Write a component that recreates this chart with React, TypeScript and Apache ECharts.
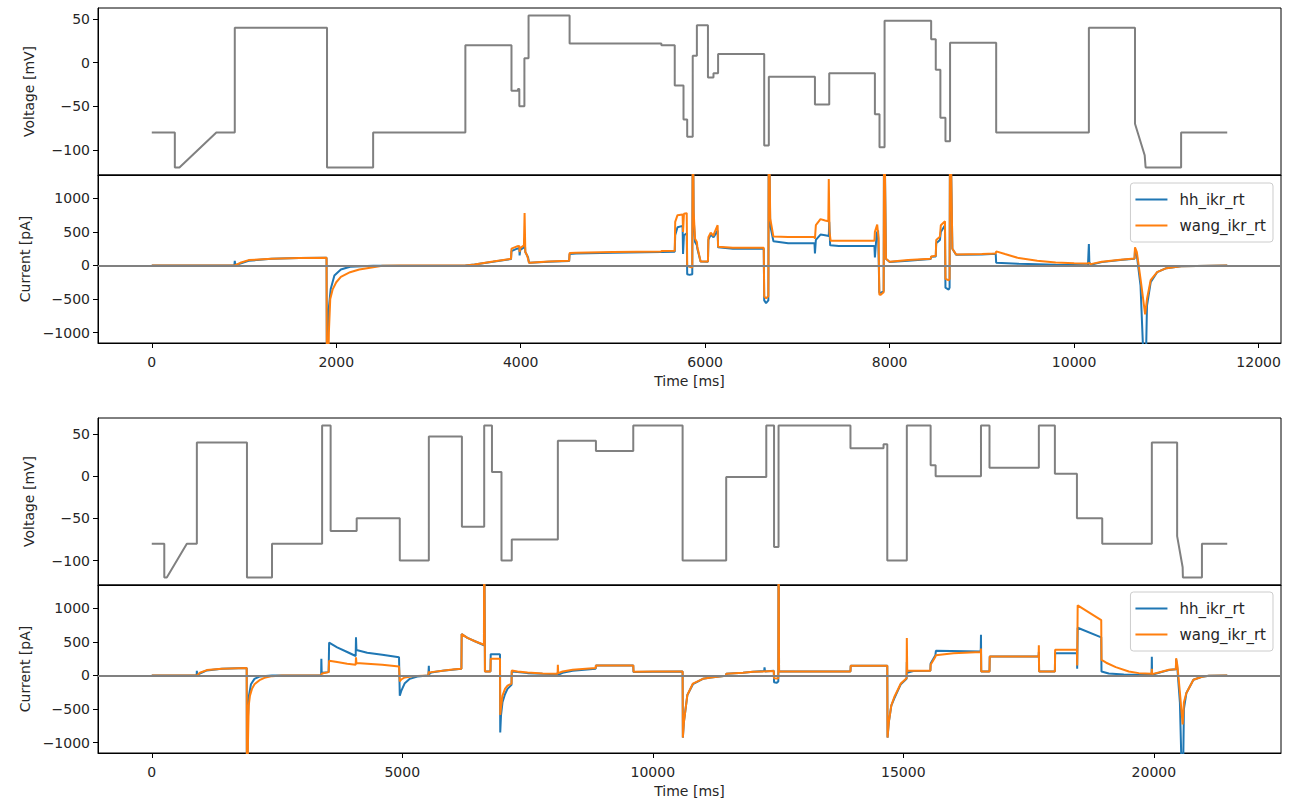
import React, { useEffect, useRef } from "react";
import * as echarts from "echarts";

// ---------- data ----------
const SERIES_NAMES = ["hh_ikr_rt", "wang_ikr_rt"];
const TIME_TICKS_A = [0, 2000, 4000, 6000, 8000, 10000, 12000];
const TIME_TICKS_B = [0, 5000, 10000, 15000, 20000];
const V_TICKS = [-100, -50, 0, 50];
const I_TICKS = [-1000, -500, 0, 500, 1000];

// protocol A voltage (ms, mV)
const voltageA = [
  [0, -80], [250, -80], [250, -120], [300, -120], [700, -80], [900, -80], [900, 40], [1900, 40], [1900, -120],
  [2400, -120], [2400, -80], [3400, -80], [3400, 20], [3900, 20], [3900, -32], [3970, -32], [3970, -30], [3985, -30],
  [3985, -50], [4040, -50], [4040, 5], [4085, 5], [4085, 54], [4530, 54], [4530, 22], [5525, 22], [5525, 20],
  [5670, 20], [5670, -26], [5765, -26], [5765, -65], [5805, -65], [5805, -85], [5865, -85], [5865, 8], [5910, 8],
  [5910, 43], [6030, 43], [6030, -17], [6090, -17], [6090, -12], [6140, -12], [6140, 10], [6640, 10], [6640, -95],
  [6690, -95], [6690, -16], [7190, -16], [7190, -48], [7345, -48], [7345, -12], [7840, -12], [7840, -59],
  [7890, -59], [7890, -97], [7945, -97], [7945, 48], [8450, 48], [8450, 27], [8500, 27], [8500, -8], [8550, -8],
  [8550, -63], [8605, -63], [8605, -90], [8655, -90], [8655, 23], [9155, 23], [9155, -80], [10160, -80],
  [10160, 40], [10660, 40], [10660, -70], [10765, -106], [10775, -120], [11160, -120], [11160, -80], [11660, -80],
];

// protocol B voltage (ms, mV)
const voltageB = [
  [0, -80], [250, -80], [250, -120], [300, -120], [700, -80], [900, -80], [900, 40], [1900, 40], [1900, -120],
  [2400, -120], [2400, -80], [3400, -80], [3400, 60], [3570, 60], [3570, -65], [4090, -65], [4090, -50],
  [4950, -50], [4950, -100], [5530, -100], [5530, 47], [6190, 47], [6190, -60], [6635, -60], [6635, 60],
  [6790, 60], [6790, 5], [6980, 5], [6980, -100], [7185, -100], [7185, -75], [8105, -75], [8105, 42],
  [8865, 42], [8865, 30], [9610, 30], [9610, 60], [10595, 60], [10595, -100], [11465, -100], [11465, -1],
  [12265, -1], [12265, 60], [12420, 60], [12420, -84], [12510, -84], [12510, 60], [13945, 60], [13945, 33],
  [14605, 33], [14605, 38], [14680, 38], [14680, -100], [15070, -100], [15070, 60], [15545, 60], [15545, 13],
  [15645, 13], [15645, 0], [16550, 0], [16550, 60], [16720, 60], [16720, 10], [17705, 10], [17705, 60],
  [18025, 60], [18025, 3], [18465, 3], [18465, -50], [18970, -50], [18970, -80], [19960, -80], [19960, 40],
  [20465, 40], [20465, -71], [20575, -108], [20580, -120], [20960, -120], [20960, -80], [21465, -80],
];

// protocol A currents (ms, pA)
const hhA = [
  [0, 0], [895, 0], [900, 70], [905, 5], [960, 30], [1050, 70], [1300, 100], [1600, 110], [1895, 115],
  [1900, -2500], [1915, -700], [1940, -350], [1980, -150], [2050, -60], [2150, -20], [2400, -5], [2405, 0],
  [3400, 0], [3500, 15], [3700, 55], [3895, 95],
  [3900, 215], [3960, 250], [3985, 260], [3988, 150], [3995, 230], [4035, 270], [4042, 400], [4050, 200],
  [4080, 120], [4090, 40], [4100, 40], [4300, 55], [4525, 65],
  [4530, 170], [4600, 180], [5000, 190], [5520, 200], [5530, 200], [5670, 205],
  [5675, 450], [5700, 570], [5755, 590], [5760, 170], [5770, 450], [5800, 480], [5805, -130], [5830, -140], [5860, -130],
  [5866, 2500], [5875, 700], [5890, 350], [5910, 300], [5915, 250], [5950, 60], [6030, 55],
  [6035, 380], [6060, 460], [6090, 420], [6095, 430], [6135, 520], [6140, 270], [6300, 250], [6635, 250],
  [6640, -520], [6660, -560], [6685, -520],
  [6690, 2500], [6705, 600], [6740, 360], [6900, 330], [7185, 330],
  [7190, 180], [7200, 380], [7250, 460], [7300, 450], [7340, 440], [7345, 650], [7355, 300], [7450, 290], [7835, 290],
  [7840, 120], [7860, 480], [7875, 520], [7888, -400], [7900, -410], [7935, -380],
  [7940, 2500], [7960, 100], [8000, 50], [8200, 70], [8445, 95],
  [8450, 130], [8500, 135], [8505, 330], [8545, 380], [8550, 380], [8555, 500], [8600, 600], [8605, -330],
  [8640, -360], [8650, -330],
  [8655, 2500], [8680, 250], [8720, 160], [9000, 165], [9150, 175],
  [9155, 40], [9400, 25], [9800, 12], [10150, 5],
  [10160, 320], [10165, 50], [10180, 10], [10300, 50], [10500, 80], [10655, 100],
  [10660, 220], [10680, 150], [10720, -300], [10770, -2000], [10790, -600], [10830, -250], [10900, -100],
  [11000, -40], [11160, -10], [11660, 0],
];

const wangA = [
  [0, 0], [900, 0], [905, 5], [960, 40], [1050, 80], [1300, 100], [1600, 110], [1895, 115],
  [1900, -2500], [1920, -1000], [1935, -500], [1960, -360], [2000, -250], [2050, -170], [2150, -100],
  [2250, -60], [2400, -25], [2405, -20], [2500, -5], [2700, 0], [3400, 0], [3500, 15], [3700, 60], [3895, 100],
  [3900, 250], [3960, 285], [3985, 290], [3988, 200], [3995, 260], [4035, 300], [4042, 780], [4050, 200],
  [4070, 150], [4090, 40], [4100, 40], [4300, 60], [4525, 70],
  [4530, 185], [4600, 190], [5000, 200], [5520, 210], [5530, 215], [5670, 220],
  [5675, 650], [5700, 750], [5755, 760], [5760, 500], [5770, 770], [5800, 780], [5805, 0], [5830, -20], [5860, -30],
  [5866, 2500], [5875, 800], [5890, 400], [5910, 350], [5915, 280], [5950, 60], [6030, 60],
  [6035, 420], [6060, 490], [6090, 440], [6095, 470], [6135, 600], [6140, 280], [6300, 265], [6635, 265],
  [6640, -460], [6660, -490], [6685, -460],
  [6690, 2500], [6705, 700], [6740, 430], [6900, 423], [7185, 423],
  [7190, 400], [7200, 600], [7250, 690], [7300, 670], [7335, 660], [7340, 1290], [7348, 500], [7360, 370],
  [7500, 368], [7835, 368],
  [7840, 500], [7865, 610], [7880, 400], [7888, -430], [7900, -440], [7935, -400],
  [7940, 2500], [7960, 100], [8000, 55], [8200, 80], [8445, 100],
  [8450, 135], [8500, 145], [8505, 380], [8545, 430], [8550, 430], [8555, 600], [8600, 660], [8605, -200],
  [8640, -220], [8650, -200],
  [8655, 2500], [8680, 250], [8720, 165], [9000, 170], [9150, 180],
  [9155, 210], [9250, 170], [9400, 110], [9600, 70], [9800, 45], [10000, 32], [10150, 28],
  [10160, 40], [10180, 20], [10300, 55], [10500, 85], [10655, 105],
  [10660, 270], [10680, 200], [10720, -200], [10770, -730], [10790, -500], [10830, -220], [10900, -100],
  [11000, -40], [11160, -10], [11660, 0],
];

// protocol B currents (ms, pA)
const hhB = [
  [0, 0], [895, 0], [900, 70], [905, 5], [960, 30], [1100, 75], [1400, 100], [1895, 110],
  [1900, -2500], [1915, -700], [1940, -300], [1980, -130], [2050, -50], [2150, -15], [2400, 0], [3380, 0],
  [3385, 250], [3392, 30], [3400, 40], [3530, 50],
  [3540, 490], [3700, 420], [3900, 350], [4070, 290], [4076, 570], [4085, 380], [4300, 340], [4600, 310], [4935, 270],
  [4950, -300], [4980, -230], [5050, -115], [5150, -50], [5300, -15], [5520, 0],
  [5530, 145], [5535, 20], [5580, 45], [5800, 70], [6000, 85], [6180, 100],
  [6185, 617], [6300, 560], [6450, 510], [6630, 450],
  [6635, 2500], [6650, 60], [6760, 60],
  [6765, 318], [6950, 318],
  [6955, -850], [6970, -600], [7000, -400], [7050, -280], [7100, -200], [7180, -140],
  [7185, 60], [7300, 50], [7500, 35], [7800, 25], [8100, 20],
  [8105, 50], [8110, 10], [8200, 40], [8400, 70], [8860, 100],
  [8865, 150], [9610, 150],
  [9615, 50], [10000, 55], [10595, 60],
  [10600, -925], [10620, -700], [10690, -290], [10800, -130], [11000, -50], [11160, -30], [11460, -5],
  [11465, 25], [11800, 40], [12000, 55], [12223, 65], [12230, 120], [12240, 60], [12415, 70],
  [12420, -100], [12470, -110], [12505, -90],
  [12510, 2500], [12520, 60], [13945, 60],
  [13950, 145], [14680, 145],
  [14685, -925], [14710, -700], [14760, -450], [14820, -340], [14950, -130], [15065, -50],
  [15070, 200], [15075, 40], [15200, 65], [15540, 70],
  [15545, 180], [15640, 300], [15650, 368], [16545, 358],
  [16550, 607], [16555, 60], [16720, 60],
  [16725, 283], [17700, 283], [17705, 350], [17710, 60], [18025, 60],
  [18030, 333], [18465, 333],
  [18470, 100], [18480, 711], [18950, 568],
  [18955, 60], [19100, 30], [19400, 15], [19955, 10],
  [19960, 280], [19965, 10], [20100, 40], [20300, 80], [20440, 94],
  [20445, 240], [20470, 100], [20520, -400], [20575, -2000], [20600, -500], [20650, -260], [20790, -64],
  [20960, -20], [21100, -5], [21465, 0],
];

const wangB = [
  [0, 0], [900, 0], [905, 5], [960, 40], [1100, 80], [1400, 100], [1895, 110],
  [1900, -2500], [1920, -1000], [1935, -450], [1960, -300], [2000, -200], [2050, -130], [2150, -70],
  [2250, -35], [2400, -10], [2600, 0], [3380, 0], [3390, 20], [3400, 30], [3530, 50],
  [3540, 220], [3700, 200], [3900, 175], [4070, 160], [4076, 270], [4085, 185], [4300, 175], [4600, 160], [4935, 135],
  [4950, -90], [4980, -60], [5050, -30], [5200, -10], [5520, 0],
  [5530, 60], [5535, 40], [5580, 50], [5800, 70], [6000, 90], [6180, 100],
  [6185, 617], [6300, 560], [6450, 510], [6630, 458],
  [6635, 2500], [6650, 60], [6760, 60],
  [6765, 250], [6950, 250],
  [6955, -587], [6970, -480], [7000, -300], [7050, -200], [7100, -150], [7180, -120],
  [7185, 75], [7300, 60], [7500, 45], [7800, 30], [8100, 25],
  [8105, 160], [8112, 35], [8200, 60], [8400, 85], [8860, 110],
  [8865, 150], [9610, 150],
  [9615, 55], [10000, 58], [10595, 60],
  [10600, -925], [10620, -700], [10690, -290], [10800, -120], [11000, -50], [11160, -30], [11460, -5],
  [11465, 25], [11800, 40], [12000, 55], [12415, 65],
  [12420, -40], [12470, -45], [12505, -40],
  [12510, 2500], [12520, 60], [13945, 60],
  [13950, 145], [14680, 145],
  [14685, -925], [14710, -700], [14760, -450], [14820, -320], [14950, -120], [15065, -40],
  [15070, 557], [15078, 70], [15200, 70], [15540, 70],
  [15545, 160], [15640, 280], [15650, 300], [16000, 330], [16545, 350],
  [16550, 400], [16555, 60], [16720, 60],
  [16725, 283], [17700, 283], [17705, 450], [17710, 60], [18025, 60],
  [18030, 383], [18465, 383],
  [18470, 150], [18480, 1045], [18950, 825],
  [18955, 232], [19050, 190], [19240, 124], [19500, 60], [19700, 35], [19955, 25],
  [19960, 100], [19965, 20], [20100, 45], [20300, 85], [20440, 94],
  [20445, 257], [20470, 150], [20520, -250], [20575, -730], [20600, -400], [20650, -260], [20790, -64],
  [20960, -20], [21100, -5], [21465, 0],
];

// ---------- styling ----------
const FONT = "DejaVu Sans";
const FS = 14;
const TXT = "#262626";
const COL_HH = "#1f77b4";
const COL_WANG = "#ff7f0e";
const COL_V = "#808080";

const minusFmt = (v: number) => String(v).replace("-", "\u2212");

function xAxisDef(gridIndex: number, min: number, max: number, ticks: number[], labels: boolean) {
  return {
    type: "value",
    gridIndex,
    min,
    max,
    splitLine: { show: false },
    axisLine: { show: true, onZero: false, lineStyle: { color: "#000", width: 1 } },
    axisTick: labels
      ? { show: true, length: 5, inside: false, customValues: ticks, lineStyle: { color: "#000", width: 1 } }
      : { show: false },
    axisLabel: labels
      ? { show: true, customValues: ticks, margin: 12, fontFamily: FONT, fontSize: FS, color: TXT, formatter: minusFmt }
      : { show: false },
    name: labels ? "Time [ms]" : "",
    nameLocation: "middle",
    nameGap: 31,
    nameTextStyle: { fontFamily: FONT, fontSize: FS, color: TXT },
  };
}

function yAxisDef(gridIndex: number, min: number, max: number, ticks: number[], name: string) {
  return {
    type: "value",
    gridIndex,
    min,
    max,
    splitLine: { show: false },
    axisLine: { show: true, onZero: false, lineStyle: { color: "#000", width: 1 } },
    axisTick: { show: true, length: 5, inside: false, customValues: ticks, lineStyle: { color: "#000", width: 1 } },
    axisLabel: { show: true, customValues: ticks, margin: 8, fontFamily: FONT, fontSize: FS, color: TXT, formatter: minusFmt },
    name,
    nameLocation: "middle",
    nameGap: 62,
    nameTextStyle: { fontFamily: FONT, fontSize: FS, color: TXT },
  };
}

function lineSeries(name: string, data: number[][], idx: number, color: string, zeroLine: boolean) {
  const s: any = {
    name,
    type: "line",
    xAxisIndex: idx,
    yAxisIndex: idx,
    data,
    symbol: "none",
    showSymbol: false,
    clip: true,
    lineStyle: { color, width: 2 },
    itemStyle: { color },
  };
  if (zeroLine) {
    s.markLine = {
      silent: true,
      symbol: ["none", "none"],
      label: { show: false },
      lineStyle: { color: COL_V, width: 2, type: "solid" },
      data: [{ yAxis: 0 }],
    };
  }
  return s;
}

function legendDef(top: number) {
  return {
    data: SERIES_NAMES,
    orient: "vertical",
    right: 16,
    top,
    icon: "rect",
    padding: [9, 7, 9, 5],
    itemGap: 11,
    itemWidth: 32,
    itemHeight: 2,
    borderColor: "#cccccc",
    borderWidth: 1,
    borderRadius: 3,
    backgroundColor: "rgba(255,255,255,0.8)",
    textStyle: { fontFamily: FONT, fontSize: 15, color: TXT, padding: [0, 0, 0, 7] },
  };
}

export default function App() {
  const ref = useRef<HTMLDivElement>(null);
  useEffect(() => {
    if (!ref.current) return;
    const chart = echarts.init(ref.current, null, { renderer: "svg" });
    const gridBox = { left: 98, right: 8, show: true, borderColor: "#000", borderWidth: 1, backgroundColor: "#fff" };
    chart.setOption({
      animation: false,
      backgroundColor: "#fff",
      grid: [
        { ...gridBox, top: 8, height: 167 },
        { ...gridBox, top: 175, height: 168 },
        { ...gridBox, top: 418, height: 167 },
        { ...gridBox, top: 585, height: 168 },
      ],
      xAxis: [
        xAxisDef(0, -583, 12243, TIME_TICKS_A, false),
        xAxisDef(1, -583, 12243, TIME_TICKS_A, true),
        xAxisDef(2, -1073, 22538, TIME_TICKS_B, false),
        xAxisDef(3, -1073, 22538, TIME_TICKS_B, true),
      ],
      yAxis: [
        yAxisDef(0, -128.7, 62.7, V_TICKS, "Voltage [mV]"),
        yAxisDef(1, -1155, 1348, I_TICKS, "Current [pA]"),
        yAxisDef(2, -129, 69, V_TICKS, "Voltage [mV]"),
        yAxisDef(3, -1155, 1348, I_TICKS, "Current [pA]"),
      ],
      legend: [legendDef(183), legendDef(592)],
      series: [
        lineSeries("voltageA", voltageA, 0, COL_V, false),
        lineSeries(SERIES_NAMES[0], hhA, 1, COL_HH, false),
        lineSeries(SERIES_NAMES[1], wangA, 1, COL_WANG, true),
        lineSeries("voltageB", voltageB, 2, COL_V, false),
        lineSeries(SERIES_NAMES[0], hhB, 3, COL_HH, false),
        lineSeries(SERIES_NAMES[1], wangB, 3, COL_WANG, true),
      ],
    });
    return () => chart.dispose();
  }, []);
  return <div ref={ref} style={{ position: "absolute", left: 0, top: 0, width: 1289, height: 802 }} />;
}
